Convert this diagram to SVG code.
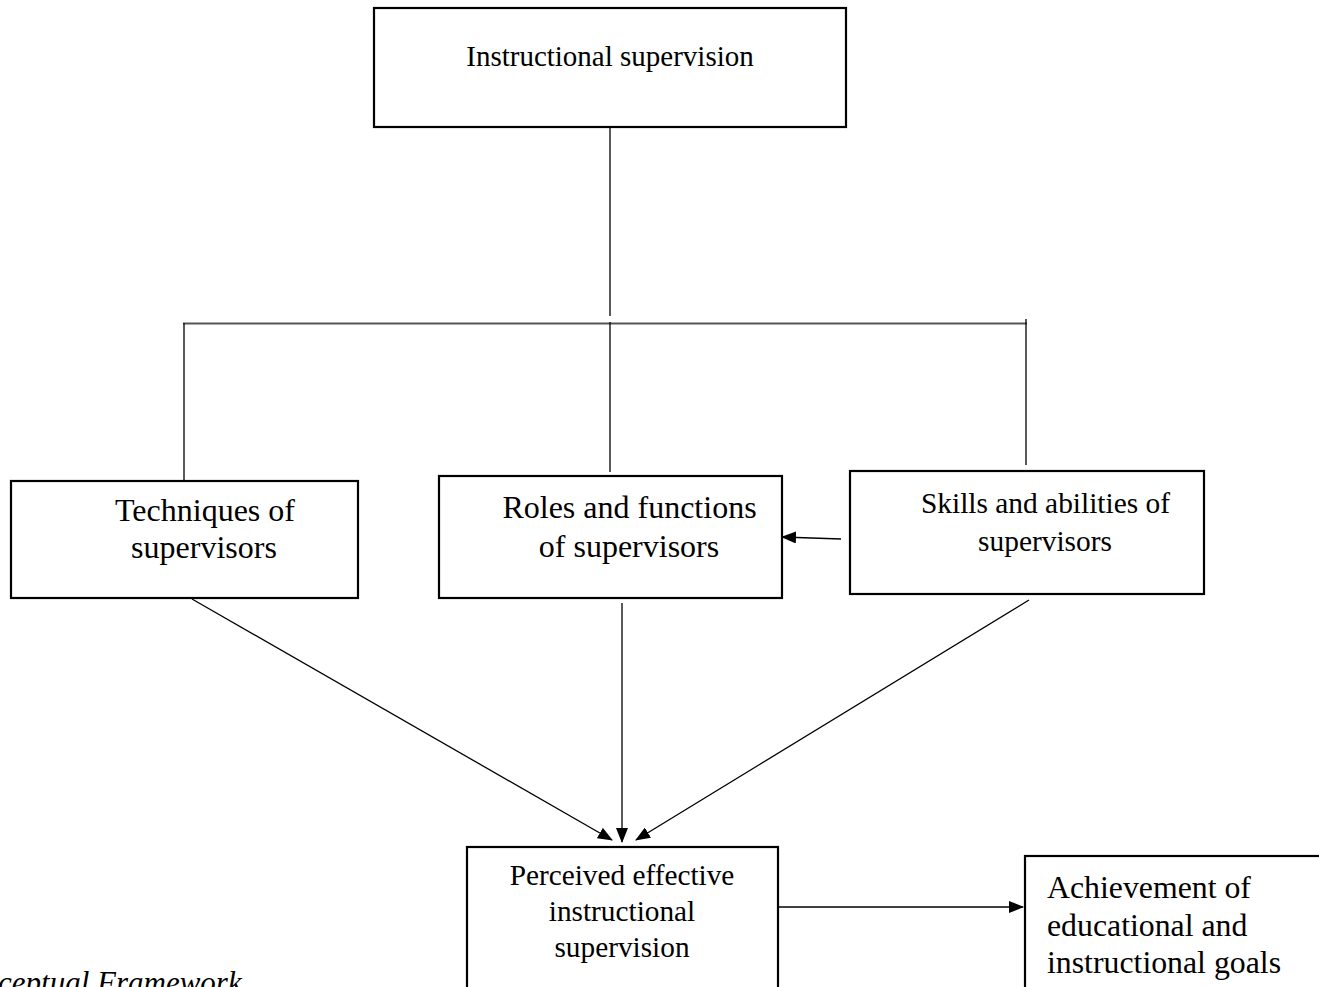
<svg xmlns="http://www.w3.org/2000/svg" width="1319" height="987" viewBox="0 0 1319 987">
<defs>
<marker id="ah" markerWidth="15" markerHeight="12" refX="14" refY="6" orient="auto" markerUnits="userSpaceOnUse">
<path d="M0,0 L15,6 L0,12 Z" fill="#000"/>
</marker>
<style>
.box{fill:#fff;stroke:#000;stroke-width:2.2}
.t{font-family:"Liberation Serif","Times New Roman",serif;fill:#000;text-anchor:middle}
.s{text-anchor:start}
.ln{stroke:#000;stroke-width:1.3;fill:none}
.arr{stroke:#000;stroke-width:1.3;fill:none;marker-end:url(#ah)}
</style>
</defs>
<rect width="1319" height="987" fill="#fff"/>
<g id="connectors">
<line class="ln" x1="610" y1="127" x2="610" y2="316"/>
<line x1="183" y1="323.5" x2="1027" y2="323.5" stroke="#555" stroke-width="2"/>
<line class="ln" x1="184" y1="323" x2="184" y2="481"/>
<line class="ln" x1="610" y1="322" x2="610" y2="472"/>
<line class="ln" x1="1026" y1="319" x2="1026" y2="465"/>
<line class="arr" x1="841" y1="539" x2="782" y2="537"/>
<line class="arr" x1="192" y1="599" x2="612" y2="840"/>
<line class="arr" x1="622" y1="603" x2="622" y2="842"/>
<line class="arr" x1="1029" y1="600" x2="636" y2="840"/>
<line class="arr" x1="778" y1="907" x2="1023" y2="907"/>
</g>
<g id="n-instructional">
<rect class="box" x="374" y="8" width="472" height="119"/>
<text class="t" x="610" y="66" font-size="29">Instructional supervision</text>
</g>
<g id="n-techniques">
<rect class="box" x="11" y="481" width="347" height="117"/>
<text class="t" x="205" y="521" font-size="32">Techniques of</text>
<text class="t" x="204" y="558" font-size="32">supervisors</text>
</g>
<g id="n-roles">
<rect class="box" x="439" y="476" width="343" height="122"/>
<text class="t" x="629.5" y="518" font-size="32">Roles and functions</text>
<text class="t" x="629" y="557" font-size="32">of supervisors</text>
</g>
<g id="n-skills">
<rect class="box" x="850" y="471" width="354" height="123"/>
<text class="t" x="1045.5" y="513" font-size="29.4">Skills and abilities of</text>
<text class="t" x="1045" y="551" font-size="29.4">supervisors</text>
</g>
<g id="n-perceived">
<rect class="box" x="467" y="847" width="311" height="150"/>
<text class="t" x="622" y="885" font-size="29.3">Perceived effective</text>
<text class="t" x="622" y="921" font-size="29.3">instructional</text>
<text class="t" x="622" y="957" font-size="29.3">supervision</text>
</g>
<g id="n-achievement">
<rect class="box" x="1025" y="856" width="310" height="140"/>
<text class="t s" x="1047" y="898" font-size="31.8">Achievement of</text>
<text class="t s" x="1047" y="936" font-size="31.8">educational and</text>
<text class="t s" x="1047" y="973" font-size="31.8">instructional goals</text>
</g>
<text x="-2" y="993" font-family="'Liberation Serif','Times New Roman',serif" font-style="italic" font-size="31" fill="#000">ceptual Framework</text>
</svg>
